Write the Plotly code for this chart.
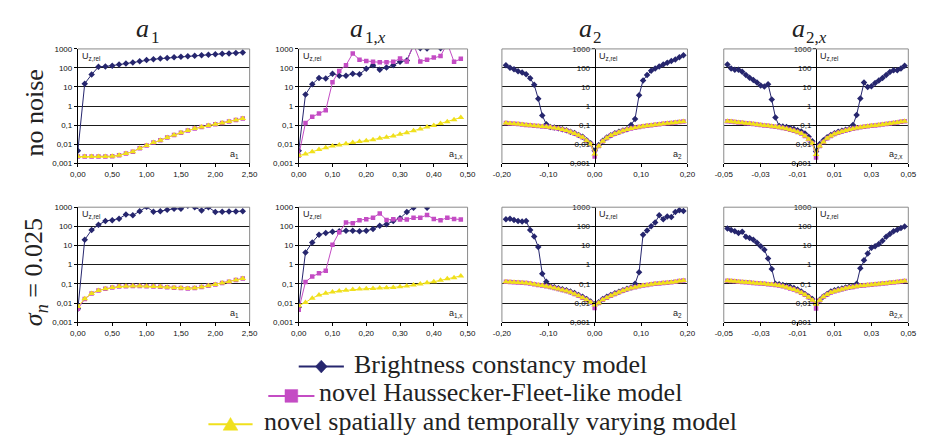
import plotly.graph_objects as go

# ------------------------------------------------------------------ data
x_a1 = [0.0, 0.1, 0.2, 0.3, 0.4, 0.5, 0.6, 0.7, 0.8, 0.9, 1.0, 1.1, 1.2,
        1.3, 1.4, 1.5, 1.6, 1.7, 1.8, 1.9, 2.0, 2.1, 2.2, 2.3, 2.4]
x_a1x = [0.00, 0.02, 0.04, 0.06, 0.08, 0.10, 0.12, 0.14, 0.16, 0.18, 0.20, 0.22,
         0.24, 0.26, 0.28, 0.30, 0.32, 0.34, 0.36, 0.38, 0.40, 0.42, 0.44, 0.46, 0.48]
x_a2 = [-0.1913, -0.1826, -0.1739, -0.1652, -0.1565, -0.1478, -0.1391, -0.1304,
        -0.1217, -0.1130, -0.1043, -0.0957, -0.0870, -0.0783, -0.0696, -0.0609,
        -0.0522, -0.0435, -0.0348, -0.0261, -0.0174, -0.0087, 0.0,
        0.0087, 0.0174, 0.0261, 0.0348, 0.0435, 0.0522, 0.0609, 0.0696, 0.0783,
        0.0870, 0.0957, 0.1043, 0.1130, 0.1217, 0.1304, 0.1391, 0.1478, 0.1565,
        0.1652, 0.1739, 0.1826, 0.1913]
x_a2x = [-0.048, -0.046, -0.044, -0.042, -0.040, -0.038, -0.036, -0.034, -0.032,
         -0.030, -0.028, -0.026, -0.024, -0.022, -0.020, -0.018, -0.016, -0.014,
         -0.012, -0.010, -0.008, -0.006, -0.004, -0.002, 0.0,
         0.002, 0.004, 0.006, 0.008, 0.010, 0.012, 0.014, 0.016, 0.018, 0.020,
         0.022, 0.024, 0.026, 0.028, 0.030, 0.032, 0.034, 0.036, 0.038, 0.040,
         0.042, 0.044, 0.046, 0.048]

# row 1 : no noise
bc_a1_clean = [0.0045, 15, 45, 115, 120, 130, 150, 170, 195, 225, 260, 285, 310,
               335, 360, 385, 410, 435, 460, 490, 520, 550, 580, 610, 650]
hf_a1_clean = [0.0022, 0.0022, 0.0022, 0.0022, 0.0022, 0.0023, 0.0026, 0.0032, 0.004,
               0.006, 0.0085, 0.012, 0.016, 0.022, 0.03, 0.04, 0.052, 0.065, 0.08,
               0.095, 0.11, 0.13, 0.155, 0.185, 0.22]
sv_a1_clean = [0.0022, 0.0022, 0.0022, 0.0022, 0.0022, 0.0023, 0.0026, 0.0032, 0.004,
               0.006, 0.0085, 0.012, 0.016, 0.022, 0.03, 0.04, 0.052, 0.065, 0.08,
               0.095, 0.11, 0.13, 0.155, 0.185, 0.22]

bc_a1x_clean = [0.0045, 4, 14, 30, 28, 49, 39, 39, 49, 47, 90, 140, 80, 107, 140,
                210, 250, 1500, 1100, 1050, 1800, 1100, 3000, 5000, 4000]
hf_a1x_clean = [0.0025, 0.13, 0.27, 0.4, 0.6, 18, 70, 140, 580, 270, 235, 210, 200,
                200, 210, 310, 220, 1700, 220, 270, 350, 420, 2000, 210, 300]
sv_a1x_clean = [0.0025, 0.003, 0.004, 0.0052, 0.0065, 0.008, 0.009, 0.0105, 0.012,
                0.0135, 0.015, 0.017, 0.02, 0.023, 0.027, 0.033, 0.04, 0.05, 0.062,
                0.078, 0.095, 0.12, 0.15, 0.19, 0.25]

bc_a2_clean = [139, 101, 86, 68, 58, 46, 29, 13, 2.4, 0.32, 0.11,
               0.08, 0.074, 0.068, 0.061, 0.054, 0.045, 0.038, 0.03, 0.024, 0.016, 0.011,
               0.0045,
               0.009, 0.015, 0.022, 0.029, 0.037, 0.044, 0.052, 0.06, 0.1,
               0.21, 3.7, 22, 42, 71, 93, 118, 150, 190, 232, 282, 370, 470]
hf_a2_clean = [0.127, 0.122, 0.117, 0.112, 0.107, 0.102, 0.097, 0.093, 0.089, 0.085,
               0.081, 0.077, 0.071, 0.065, 0.058, 0.051, 0.043, 0.036, 0.029, 0.023,
               0.015, 0.010,
               0.0022,
               0.008, 0.014, 0.021, 0.028, 0.035, 0.042, 0.05, 0.058, 0.066, 0.073,
               0.08, 0.087, 0.093, 0.099, 0.105, 0.111, 0.117, 0.123, 0.13, 0.137,
               0.145, 0.155]
sv_a2_clean = [0.127, 0.122, 0.117, 0.112, 0.107, 0.102, 0.097, 0.093, 0.089, 0.085,
               0.081, 0.077, 0.071, 0.065, 0.058, 0.051, 0.043, 0.036, 0.029, 0.023,
               0.015, 0.010,
               0.003,
               0.008, 0.014, 0.021, 0.028, 0.035, 0.042, 0.05, 0.058, 0.066, 0.073,
               0.08, 0.087, 0.093, 0.099, 0.105, 0.111, 0.117, 0.123, 0.13, 0.137,
               0.145, 0.155]

bc_a2x_clean = [150, 94, 80, 80, 63, 42, 31, 23, 17, 12, 10.5, 14, 2.2, 0.25, 0.09,
                0.085, 0.078, 0.07, 0.062, 0.054, 0.046, 0.036, 0.024, 0.014,
                0.0041,
                0.01, 0.016, 0.023, 0.03, 0.037, 0.044, 0.05, 0.056, 0.062,
                0.1, 0.34, 2.5, 17, 10, 11, 16, 22, 30, 42, 62, 75, 75, 95, 130]
hf_a2x_clean = [0.16, 0.152, 0.145, 0.138, 0.131, 0.125, 0.119, 0.113, 0.107, 0.101,
                0.096, 0.091, 0.086, 0.081, 0.076, 0.07, 0.064, 0.057, 0.05, 0.043,
                0.036, 0.027, 0.018, 0.011,
                0.002,
                0.008, 0.013, 0.02, 0.027, 0.034, 0.04, 0.046, 0.052, 0.058, 0.064,
                0.07, 0.076, 0.081, 0.086, 0.091, 0.096, 0.101, 0.107, 0.113, 0.12,
                0.128, 0.137, 0.148, 0.16]
sv_a2x_clean = [0.16, 0.152, 0.145, 0.138, 0.131, 0.125, 0.119, 0.113, 0.107, 0.101,
                0.096, 0.091, 0.086, 0.081, 0.076, 0.07, 0.064, 0.057, 0.05, 0.043,
                0.036, 0.027, 0.018, 0.011,
                0.0028,
                0.008, 0.013, 0.02, 0.027, 0.034, 0.04, 0.046, 0.052, 0.058, 0.064,
                0.07, 0.076, 0.081, 0.086, 0.091, 0.096, 0.101, 0.107, 0.113, 0.12,
                0.128, 0.137, 0.148, 0.16]

# row 2 : sigma_n = 0.025
bc_a1_noise = [0.005, 20, 65, 120, 190, 210, 250, 420, 375, 620, 1040, 580, 620,
               730, 820, 820, 1200, 1000, 680, 1000, 560, 580, 600, 600, 620]
hf_a1_noise = [0.005, 0.016, 0.031, 0.045, 0.055, 0.064, 0.072, 0.075, 0.078, 0.078,
               0.075, 0.072, 0.07, 0.066, 0.062, 0.06, 0.058, 0.06, 0.068, 0.08,
               0.093, 0.11, 0.13, 0.16, 0.19]
sv_a1_noise = [0.0066, 0.0167, 0.031, 0.045, 0.055, 0.064, 0.072, 0.075, 0.078, 0.078,
               0.075, 0.072, 0.07, 0.066, 0.062, 0.06, 0.058, 0.06, 0.068, 0.08,
               0.093, 0.11, 0.13, 0.16, 0.19]

bc_a1x_noise = [0.006, 4.3, 14.5, 37, 45, 53, 55, 59, 59, 55, 59, 72, 107, 130, 192,
                264, 555, 925, 1660, 925, 1900, 3000, 4000, 5000, 6000]
hf_a1x_noise = [0.0045, 0.125, 0.245, 0.36, 0.49, 11, 49, 158, 146, 208, 235, 285,
                475, 217, 235, 226, 226, 285, 285, 390, 244, 208, 285, 244, 226]
sv_a1x_noise = [0.0073, 0.0108, 0.018, 0.026, 0.032, 0.038, 0.043, 0.046, 0.05, 0.054,
                0.056, 0.058, 0.06, 0.063, 0.065, 0.07, 0.077, 0.086, 0.097, 0.113,
                0.13, 0.153, 0.186, 0.21, 0.26]

bc_a2_noise = [234, 253, 216, 193, 178, 193, 64, 30, 8.4, 0.34, 0.13,
               0.074, 0.066, 0.059, 0.053, 0.046, 0.04, 0.033, 0.026, 0.021, 0.016, 0.012,
               0.0085,
               0.011, 0.016, 0.021, 0.026, 0.032, 0.039, 0.047, 0.055, 0.065,
               0.1, 0.4, 37, 60, 100, 160, 375, 234, 330, 308, 555, 700, 625]
hf_a2_noise = [0.13, 0.126, 0.122, 0.118, 0.115, 0.11, 0.104, 0.096, 0.088, 0.082,
               0.076, 0.068, 0.06, 0.054, 0.048, 0.042, 0.036, 0.03, 0.024, 0.019,
               0.015, 0.011,
               0.0055,
               0.01, 0.015, 0.019, 0.024, 0.03, 0.036, 0.044, 0.052, 0.06, 0.067,
               0.074, 0.081, 0.088, 0.094, 0.1, 0.105, 0.11, 0.115, 0.122, 0.13,
               0.14, 0.15]
sv_a2_noise = [0.13, 0.126, 0.122, 0.118, 0.115, 0.11, 0.104, 0.096, 0.088, 0.082,
               0.076, 0.068, 0.06, 0.054, 0.048, 0.042, 0.036, 0.03, 0.024, 0.019,
               0.015, 0.011,
               0.008,
               0.01, 0.015, 0.019, 0.024, 0.03, 0.036, 0.044, 0.052, 0.06, 0.067,
               0.074, 0.081, 0.088, 0.094, 0.1, 0.105, 0.11, 0.115, 0.122, 0.13,
               0.14, 0.15]

bc_a2x_noise = [78, 64, 55, 45, 53, 29, 25, 20, 14, 9.3, 6.1, 2.1, 0.6, 0.1,
                0.095, 0.088, 0.08, 0.07, 0.06, 0.05, 0.04, 0.03, 0.022, 0.016,
                0.0087,
                0.015, 0.022, 0.03, 0.04, 0.046, 0.052, 0.058, 0.064, 0.07, 0.075,
                0.1, 0.65, 1.7, 3.8, 7.7, 9.3, 12, 18, 29, 40, 55, 67, 81, 98]
hf_a2x_noise = [0.145, 0.14, 0.135, 0.13, 0.125, 0.12, 0.116, 0.112, 0.108, 0.104,
                0.1, 0.096, 0.092, 0.087, 0.081, 0.074, 0.066, 0.058, 0.05, 0.042,
                0.034, 0.027, 0.02, 0.014,
                0.0052,
                0.014, 0.021, 0.028, 0.035, 0.041, 0.047, 0.053, 0.059, 0.064, 0.069,
                0.074, 0.079, 0.083, 0.087, 0.091, 0.095, 0.099, 0.103, 0.108, 0.113,
                0.118, 0.124, 0.131, 0.14]
sv_a2x_noise = [0.145, 0.14, 0.135, 0.13, 0.125, 0.12, 0.116, 0.112, 0.108, 0.104,
                0.1, 0.096, 0.092, 0.087, 0.081, 0.074, 0.066, 0.058, 0.05, 0.042,
                0.034, 0.027, 0.02, 0.014,
                0.0085,
                0.014, 0.021, 0.028, 0.035, 0.041, 0.047, 0.053, 0.059, 0.064, 0.069,
                0.074, 0.079, 0.083, 0.087, 0.091, 0.095, 0.099, 0.103, 0.108, 0.113,
                0.118, 0.124, 0.131, 0.14]

# tick labels
y_tickvals = [0.001, 0.01, 0.1, 1, 10, 100, 1000]
y_ticktext = ["0,001", "0,01", "0,1", "1", "10", "100", "1000"]
xt_a1 = [0, 0.5, 1.0, 1.5, 2.0, 2.5]
xl_a1 = ["0,00", "0,50", "1,00", "1,50", "2,00", "2,50"]
xt_a1x = [0, 0.1, 0.2, 0.3, 0.4, 0.5]
xl_a1x = ["0,00", "0,10", "0,20", "0,30", "0,40", "0,50"]
xt_a2 = [-0.2, -0.1, 0, 0.1, 0.2]
xl_a2 = ["-0,20", "-0,10", "0,00", "0,10", "0,20"]
xt_a2x = [-0.05, -0.03, -0.01, 0.01, 0.03, 0.05]
xl_a2x = ["-0,05", "-0,03", "-0,01", "0,01", "0,03", "0,05"]

col_title_main = ["a", "a", "a", "a"]
col_title_sub = ["1", "1,<i>x</i>", "2", "2,<i>x</i>"]
axis_labels = ["a<sub>1</sub>", "a<sub>1,x</sub>", "a<sub>2</sub>", "a<sub>2,x</sub>"]
row_labels = ["no noise", "<i>σ</i><sub><i>n</i></sub> = 0.025"]
series_names = ["Brightness constancy model",
                "novel Haussecker-Fleet-like model",
                "novel spatially and temporally varying model"]

# ------------------------------------------------------------------ style
W, H = 925, 437
BLUE, MAG, YEL = "#26266e", "#c44cc4", "#f0e01c"
SANS = "Liberation Sans"
SERIF = "Liberation Serif, Times New Roman, serif"
FRAME = "#8a8a8a"
col_px = [(62, 237), (287, 459), (494, 683), (720, 908)]
row_px = [(37.7, 154.3), (199.3, 316.7)]
title_a_right_px = [137, 355, 588, 805]   # where the italic "a" ends / subscript starts


def px2x(p):
    return p / W


def px2y(p):
    return 1 - p / H


columns = [
    (x_a1, [0, 2.5], xt_a1, xl_a1, False),
    (x_a1x, [0, 0.5], xt_a1x, xl_a1x, False),
    (x_a2, [-0.2, 0.2], xt_a2, xl_a2, True),
    (x_a2x, [-0.05, 0.05], xt_a2x, xl_a2x, True),
]
rows = [
    [(bc_a1_clean, hf_a1_clean, sv_a1_clean), (bc_a1x_clean, hf_a1x_clean, sv_a1x_clean),
     (bc_a2_clean, hf_a2_clean, sv_a2_clean), (bc_a2x_clean, hf_a2x_clean, sv_a2x_clean)],
    [(bc_a1_noise, hf_a1_noise, sv_a1_noise), (bc_a1x_noise, hf_a1x_noise, sv_a1x_noise),
     (bc_a2_noise, hf_a2_noise, sv_a2_noise), (bc_a2x_noise, hf_a2x_noise, sv_a2x_noise)],
]

fig = go.Figure()
layout = {}
annotations = []
shapes = []

n = 0
for r, (ry0, ry1) in enumerate(row_px):
    for c, (cx0, cx1) in enumerate(col_px):
        n += 1
        sfx = "" if n == 1 else str(n)
        xs, xr, xtv, xtt, centered = columns[c]
        bc, hf, sv = rows[r][c]
        xa, ya = "x" + sfx, "y" + sfx
        specs = [
            (bc, BLUE, "diamond", 5, 0),
            (hf, MAG, "square", 4.5, 1),
            (sv, YEL, "triangle-up", 6, 2),
        ]
        for ys, col, sym, size, k in specs:
            fig.add_trace(go.Scatter(
                x=xs, y=ys, xaxis=xa, yaxis=ya, mode="lines+markers",
                line=dict(color=col, width=1),
                marker=dict(symbol=sym, size=size, color=col, line=dict(width=0)),
                showlegend=False, name=series_names[k], hoverinfo="skip"))
        layout["xaxis" + sfx] = dict(
            domain=[px2x(cx0), px2x(cx1)], anchor=ya, range=xr,
            tickvals=xtv, ticktext=xtt, ticks="outside", ticklen=3,
            tickcolor="#000", showline=True, linecolor="#000", linewidth=1,
            showgrid=False, zeroline=False,
            tickfont=dict(family=SANS, size=8, color="#111"))
        yd = dict(
            domain=[px2y(ry1), px2y(ry0)], type="log", range=[-3, 3],
            tickvals=y_tickvals, ticktext=y_ticktext, ticks="outside", ticklen=3,
            tickcolor="#000", showline=True, linecolor="#000", linewidth=1,
            showgrid=True, gridcolor="#1a1a1a", gridwidth=1, zeroline=False,
            tickfont=dict(family=SANS, size=8, color="#111"))
        if centered:
            yd["anchor"] = "free"
            yd["position"] = px2x((cx0 + cx1) / 2)
        else:
            yd["anchor"] = xa
        layout["yaxis" + sfx] = yd
        # gray plot frame (top, right and, for centred axes, left)
        xdr, ydr = xa + " domain", ya + " domain"
        frame_sides = [(0, 1, 1, 1), (1, 1, 0, 1)]
        if centered:
            frame_sides.append((0, 0, 0, 1))
        for fx0, fx1, fy0, fy1 in frame_sides:
            shapes.append(dict(type="line", xref=xdr, yref=ydr,
                               x0=fx0, x1=fx1, y0=fy0, y1=fy1,
                               line=dict(color=FRAME, width=1)))
        # U_z,rel label
        annotations.append(dict(
            text="U<sub>z,rel</sub>", xref=xdr, yref=ydr,
            x=0.5 if centered else 0, y=1, xanchor="left", yanchor="top",
            xshift=2, yshift=0, showarrow=False,
            font=dict(family=SANS, size=9, color="#222")))
        # axis name label
        annotations.append(dict(
            text=axis_labels[c], xref=xdr, yref=ydr,
            x=1, y=0, xanchor="right", yanchor="bottom",
            xshift=-9 if c == 0 else -3, yshift=1, showarrow=False,
            font=dict(family=SANS, size=9, color="#222")))

# column titles: italic "a" plus a separate subscript text
for c in range(4):
    annotations.append(dict(
        text="<i>" + col_title_main[c] + "</i>", xref="paper", yref="paper",
        x=px2x(title_a_right_px[c]), y=1, xanchor="right", yanchor="top",
        showarrow=False, font=dict(family=SERIF, size=26, color="#222")))
    annotations.append(dict(
        text=col_title_sub[c], xref="paper", yref="paper",
        x=px2x(title_a_right_px[c] - 3), y=px2y(14), xanchor="left", yanchor="top",
        showarrow=False, font=dict(family=SERIF, size=17, color="#222")))

annotations.append(dict(
    text=row_labels[0], xref="paper", yref="paper", x=px2x(18), y=px2y(103),
    xanchor="center", yanchor="middle", textangle=-90, showarrow=False,
    font=dict(family=SERIF, size=26, color="#222")))
annotations.append(dict(
    text=row_labels[1], xref="paper", yref="paper", x=px2x(18), y=px2y(266),
    xanchor="center", yanchor="middle", textangle=-90, showarrow=False,
    font=dict(family=SERIF, size=26, color="#222")))

# ------------------------------------------------------------------ legend (drawn by hand, centred lines)
LEG_TEXT_X = 493
legend_rows = [
    # name, colour, symbol, text-centre y, line x0, line x1, symbol y
    (series_names[0], BLUE, "diamond", 360, 287, 333, 362),
    (series_names[1], MAG, "square", 389, 256, 303, 392),
    (series_names[2], YEL, "triangle", 418, 195, 240, 421),
]
for name, col, sym, ty, lx0, lx1, sy in legend_rows:
    annotations.append(dict(
        text=name, xref="paper", yref="paper", x=px2x(LEG_TEXT_X), y=px2y(ty),
        xanchor="center", yanchor="middle", showarrow=False,
        font=dict(family=SERIF, size=26, color="#222")))
    shapes.append(dict(type="line", xref="paper", yref="paper",
                       x0=px2x(lx0), x1=px2x(lx1), y0=px2y(sy), y1=px2y(sy),
                       line=dict(color=col, width=2)))
    cx = (lx0 + lx1) / 2
    if sym == "diamond":
        pts = [(cx - 6, sy), (cx, sy - 6.5), (cx + 6, sy), (cx, sy + 6.5)]
    elif sym == "square":
        pts = [(cx - 6.5, sy - 6.5), (cx + 6.5, sy - 6.5), (cx + 6.5, sy + 6.5), (cx - 6.5, sy + 6.5)]
    else:
        pts = [(cx - 7.5, sy + 6), (cx, sy - 7), (cx + 7.5, sy + 6)]
    path = "M " + " L ".join(f"{px2x(a):.5f},{px2y(b):.5f}" for a, b in pts) + " Z"
    shapes.append(dict(type="path", xref="paper", yref="paper", path=path,
                       fillcolor=col, line=dict(color=col, width=0.5)))

fig.update_layout(
    width=W, height=H, margin=dict(l=0, r=0, t=0, b=0),
    paper_bgcolor="white", plot_bgcolor="white", showlegend=False,
    annotations=annotations, shapes=shapes, **layout)

fig.write_html("out.html")
